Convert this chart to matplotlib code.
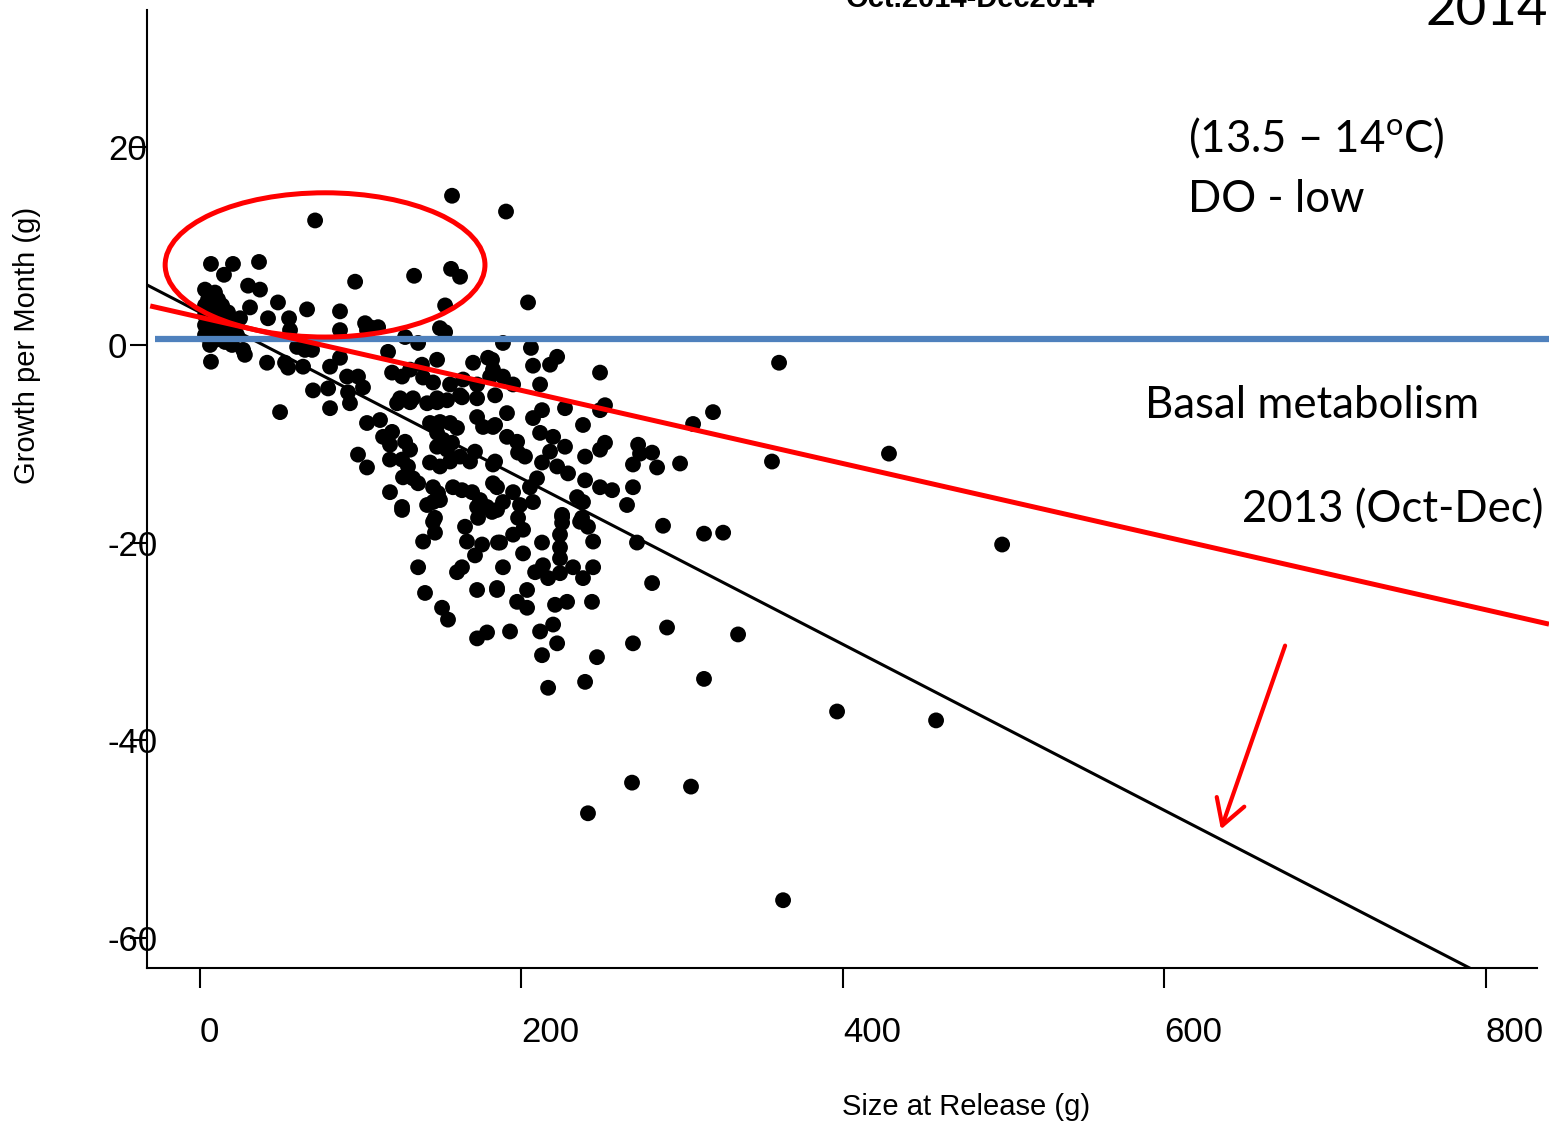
import numpy as np
import matplotlib
matplotlib.use("Agg")
import matplotlib.pyplot as plt
from matplotlib.patches import Ellipse

# =========================================================
# Data (Size at Release vs Growth per Month)
# =========================================================

size_g = [
    # outliers / upper points
    156.8, 190.4, 71.6, 36.7, 20.5, 6.8, 14.9, 96.5, 133.2, 156.2, 161.8, 29.9, 37.3, 48.5,
    42.3, 55.4, 66.6, 87.1, 152.5, 204.1, 102.7, 105.8, 87.1, 56.0, 149.3, 152.5, 31.1,
    # dense cluster near zero
    3.1, 6.2, 9.3, 5.0, 11.2, 3.1, 7.5, 13.7, 17.4, 3.1, 9.3, 15.6, 19.9, 3.1, 7.5,
    12.4, 17.4, 21.8, 3.1, 9.3, 15.6, 19.9, 6.2, 26.8, 27.9, 6.8, 23.0, 12.4, 24.9,
    60.4, 65.3, 41.7, 52.9, 64.1, 80.9, 54.8, 69.7, 49.8, 70.3, 79.7, 92.1,
    # 100-180 g, around zero
    110.8, 103.9, 127.6, 135.7, 117.0, 147.5, 138.1, 169.9, 179.2, 87.1, 91.5, 98.3, 101.4, 119.5,
    125.7, 130.7, 138.8, 145.0, 155.6, 163.7, 172.4, 180.5, 182.3, 124.5, 132.5, 147.5, 161.8,
    # 100-180 g, -5 to -18
    93.3, 80.9, 103.9, 112.0, 113.9, 119.5, 118.2, 127.6, 130.7, 98.3, 103.9, 118.2, 125.7, 129.4, 126.3,
    132.5, 135.7, 118.2, 125.7, 141.3, 145.0, 149.3, 143.1, 149.3, 155.6, 143.1, 149.3, 155.6, 159.9, 147.5,
    151.2, 156.8, 147.5, 153.7, 161.8, 168.0, 171.1, 145.0, 148.1, 157.4, 163.0, 169.3, 174.2, 178.6, 172.4,
    122.6, 130.7, 141.3, 147.5, 153.7, 163.0, 172.4, 172.4, 176.1, 182.3, 182.3, 182.3, 181.7, 146.2,
    # 120-190 g, lower
    125.7, 145.0, 146.2, 138.8, 164.9, 173.0, 166.1, 175.5, 171.1, 185.4,
    135.7, 163.0, 159.9, 140.0, 172.4, 184.8, 150.6, 154.3, 172.4, 178.6,
    # 180-290 g
    188.5, 205.9, 222.2, 217.8, 207.2, 181.7, 188.5, 194.8, 211.6, 248.9, 183.6,
    191.0, 207.2, 212.8, 227.1, 238.3, 252.0, 248.9, 183.6, 191.0, 197.3, 211.6, 219.7, 227.1, 197.9, 202.2,
    217.8, 239.6, 252.0, 248.9, 272.6, 281.3, 269.4, 284.4, 183.6, 212.8, 222.2, 229.0, 209.7, 205.3, 194.8,
    184.8, 239.6, 248.9, 256.4, 269.4, 234.6, 238.3, 207.2, 199.1, 188.5, 265.7, 225.3, 237.7, 184.8,
    197.9, 225.3, 225.3, 236.5, 241.4, 201.0, 194.8, 186.7, 224.0, 212.8, 224.0, 224.0, 201.0, 244.6,
    188.5, 213.4, 208.5, 216.6, 224.0, 232.1, 244.6, 238.3, 271.9, 281.3, 184.8, 203.5, 197.3, 203.5,
    220.9, 228.4, 243.9, 192.9, 211.6, 219.7, 222.2, 212.8, 247.0, 269.4, 216.6, 239.6,
    # sparse large fish
    360.3, 319.2, 306.8, 273.8, 298.7, 355.9, 428.7, 288.1, 313.6, 325.5, 499.1, 290.6, 334.8,
    313.6, 396.4, 458.0, 268.8, 305.5, 362.8, 241.4,
]

growth_g = [
    15.1, 13.5, 12.6, 8.4, 8.2, 8.2, 7.1, 6.4, 7.0, 7.7, 6.9, 6.0, 5.6, 4.3,
    2.7, 2.7, 3.6, 3.4, 4.0, 4.3, 2.2, 1.8, 1.5, 1.5, 1.7, 1.3, 3.8,
    5.6, 5.1, 5.3, 4.6, 4.6, 4.0, 3.7, 4.0, 3.3, 3.0, 2.7, 2.5, 2.3, 2.0, 1.5,
    1.5, 1.3, 1.7, 1.0, 0.5, 0.3, 0.0, 0.0, -0.5, -1.0, -1.7, 1.0, 3.5, 2.7,
    -0.2, -0.5, -1.8, -1.8, -2.2, -2.2, -2.3, -0.5, -6.8, -4.6, -4.4, -4.8,
    1.8, 1.5, 0.8, 0.2, -0.7, -1.5, -2.0, -1.8, -1.3, -1.3, -3.2, -3.2, -4.3, -2.8,
    -3.2, -2.5, -3.3, -3.8, -4.0, -3.5, -4.0, -3.2, -2.5, -5.4, -5.4, -5.4, -5.1,
    -5.9, -6.4, -7.9, -7.6, -9.3, -8.8, -10.1, -9.8, -10.6, -11.1, -12.4, -11.6, -11.6, -12.3, -13.4,
    -13.5, -14.0, -14.9, -16.4, -16.2, -15.9, -15.7, -11.9, -12.3, -11.8, -7.9, -7.8, -7.9, -8.4, -8.9,
    -9.6, -9.9, -10.3, -10.6, -11.3, -11.8, -10.8, -14.4, -15.0, -14.4, -14.7, -14.9, -15.7, -16.4, -16.4,
    -5.9, -5.8, -5.9, -5.8, -5.6, -5.3, -5.4, -7.3, -8.3, -8.3, -12.1, -14.0, -16.9, -17.5,
    -16.7, -17.9, -19.0, -19.9, -18.4, -17.5, -19.9, -20.2, -21.3, -20.0,
    -22.5, -22.5, -23.0, -25.1, -24.8, -24.8, -26.6, -27.8, -29.7, -29.1,
    0.2, -0.3, -1.2, -2.0, -2.1, -1.5, -3.2, -4.0, -4.0, -2.8, -5.1,
    -6.9, -7.4, -6.6, -6.4, -8.1, -6.1, -6.6, -8.1, -9.3, -9.8, -8.9, -9.3, -10.3, -10.9, -11.3,
    -10.8, -11.3, -9.9, -10.6, -10.1, -10.9, -12.1, -12.4, -11.8, -11.9, -12.3, -13.0, -13.5, -14.4, -14.9,
    -14.4, -13.7, -14.4, -14.7, -14.4, -15.4, -15.9, -15.9, -16.2, -15.9, -16.2, -17.2, -17.5, -16.7,
    -17.5, -17.4, -18.0, -17.9, -18.4, -18.7, -19.2, -20.0, -19.2, -20.0, -20.5, -21.6, -21.1, -19.9,
    -22.5, -22.3, -23.0, -23.6, -23.1, -22.5, -22.5, -23.6, -20.0, -24.1, -24.6, -24.8, -26.0, -26.6,
    -26.3, -26.0, -26.0, -29.0, -29.0, -28.3, -30.2, -31.4, -31.6, -30.2, -34.7, -34.1,
    -1.8, -6.8, -8.0, -11.0, -12.0, -11.8, -11.0, -18.3, -19.1, -19.0, -20.2, -28.6, -29.3,
    -33.8, -37.1, -38.0, -44.3, -44.7, -56.2, -47.4,
]

assert len(size_g) == len(growth_g)

# fitted lines (intercept, slope)
fit_2014 = (3.3, -0.084)
fit_2013 = (2.8, -0.037)
basal_level = 0.6

x_ticks = [0, 200, 400, 600, 800]
y_ticks = [-60, -40, -20, 0, 20]

# =========================================================
# Figure
# =========================================================

W, H = 1549, 1124
fig = plt.figure(figsize=(W / 100, H / 100), dpi=100)

ax = fig.add_axes([147 / W, 1 - 968 / H, 1402 / W, 958 / H])
ax.set_xlim(-33, 839.4)
ax.set_ylim(-63.06, 33.9)

ax.scatter(size_g, growth_g, s=130, color="black", edgecolors="none", zorder=3)

# black fit (this season)
xb = np.array([-33, 840])
ax.plot(xb, fit_2014[0] + fit_2014[1] * xb, color="black", lw=2.2, zorder=4)

# blue basal metabolism line
ax.plot([-28, 839.4], [basal_level, basal_level], color="#4F81BD", lw=4.5, zorder=5,
        solid_capstyle="butt")

# red fit 2013
xr = np.array([-31, 839.4])
ax.plot(xr, fit_2013[0] + fit_2013[1] * xr, color="#FF0000", lw=3.6, zorder=6,
        solid_capstyle="butt")

# red ellipse around small fish
ax.add_patch(Ellipse((77.8, 8.1), 199, 14.6, fill=False, edgecolor="#FF0000", lw=3.6, zorder=7))

# axes styling (R style, L-shaped)
ax.spines["top"].set_visible(False)
ax.spines["right"].set_visible(False)
ax.spines["left"].set_linewidth(1.5)
ax.spines["bottom"].set_linewidth(1.5)
ax.spines["bottom"].set_bounds(-33, 832)

ax.set_xticks(x_ticks)
ax.set_xticklabels([str(v) for v in x_ticks])
ax.set_yticks(y_ticks)
ax.set_yticklabels([str(v) for v in y_ticks])
ax.tick_params(axis="x", length=14.4, width=1.5, pad=20, labelsize=25)
ax.tick_params(axis="y", length=12.2, width=1.5, pad=15.9, labelsize=25)
for lab in ax.get_xticklabels():
    lab.set_fontfamily("Liberation Sans")
    lab.set_ha("left")
for lab in ax.get_yticklabels():
    lab.set_fontfamily("Liberation Sans")
    lab.set_ha("left")

fig.text(966 / W, 1 - 1107 / H, "Size at Release (g)", fontsize=21, family="Liberation Sans",
         ha="center", va="center")
fig.text(27 / W, 1 - 345 / H, "Growth per Month (g)", fontsize=21, family="Liberation Sans",
         ha="center", va="center", rotation=90)

# =========================================================
# Annotations (slide text)
# =========================================================

plt.rcParams["mathtext.fontset"] = "custom"
plt.rcParams["mathtext.rm"] = "Lato"

note_font = dict(family="Lato", fontsize=31.5, va="baseline", ha="left")
fig.text(1188 / W, 1 - 152 / H, "(13.5 \u2013 14$^{\\mathrm{o}}$C)", **note_font)
fig.text(1188 / W, 1 - 212 / H, "DO - low", **note_font)
fig.text(1145 / W, 1 - 418 / H, "Basal metabolism", **note_font)
fig.text(1242 / W, 1 - 522 / H, "2013 (Oct-Dec)", **note_font)

# slide headings, cut off at the top edge as in the original
fig.text(970 / W, 1 - 7 / H, "Oct.2014-Dec2014", family="Liberation Sans", fontweight="bold",
         fontsize=21, ha="center", va="baseline")
fig.text(1425 / W, 1 - 25 / H, "2014", family="Lato", fontsize=38, ha="left", va="baseline")

ax.annotate("", xy=(1220 / W, 1 - 832 / H), xytext=(1286 / W, 1 - 643 / H),
            xycoords="figure fraction", textcoords="figure fraction",
            arrowprops=dict(arrowstyle="->,head_length=0.6,head_width=0.35",
                            color="#FF0000", lw=3, mutation_scale=30))

fig.savefig("out.png", dpi=100)
plt.close(fig)
